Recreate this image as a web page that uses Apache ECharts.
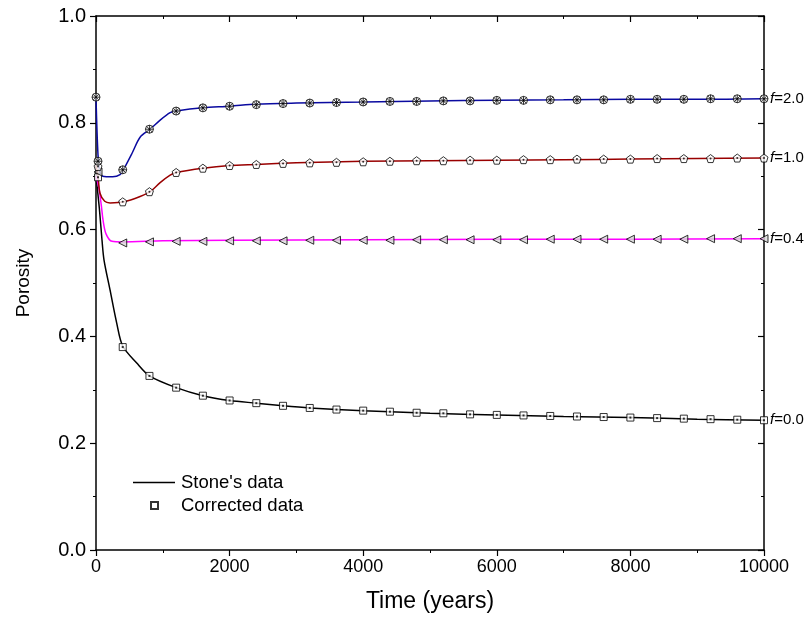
<!DOCTYPE html>
<html><head><meta charset="utf-8">
<script src="https://cdn.jsdelivr.net/npm/echarts@6/dist/echarts.min.js"></script>
<style>html,body{margin:0;padding:0;background:#fff}#c{width:808px;height:622px}</style>
</head><body><div id="c"></div>
<script>
// ---------- axis ticks ----------
const xTicks = [0, 2000, 4000, 6000, 8000, 10000];
const yTicks = [0.0, 0.2, 0.4, 0.6, 0.8, 1.0];

// ---------- model curves (Stone's data) ----------
const f20_t = [0, 30, 60, 100, 250, 360, 410, 540, 660, 810, 960, 1110, 1200, 1600, 2000, 2400, 3000, 4000, 5000, 6000, 7000, 8000, 9000, 10000];
const f20_v = [0.848, 0.740, 0.708, 0.700, 0.699, 0.703, 0.712, 0.743, 0.773, 0.788, 0.805, 0.819, 0.822, 0.828, 0.831, 0.835, 0.837, 0.839, 0.841, 0.842, 0.843, 0.844, 0.844, 0.845];

const f10_t = [0, 30, 60, 130, 210, 420, 660, 810, 960, 1110, 1200, 1600, 2000, 2400, 3000, 4000, 5000, 6000, 7000, 8000, 9000, 10000];
const f10_v = [0.720, 0.700, 0.668, 0.653, 0.650, 0.652, 0.662, 0.671, 0.688, 0.702, 0.707, 0.715, 0.720, 0.722, 0.725, 0.728, 0.729, 0.730, 0.731, 0.732, 0.733, 0.734];

const f04_t = [0, 40, 80, 105, 150, 240, 400, 1000, 2000, 4000, 6000, 8000, 10000];
const f04_v = [0.700, 0.680, 0.645, 0.618, 0.592, 0.578, 0.577, 0.579, 0.580, 0.581, 0.582, 0.582, 0.583];

const f00_t = [0, 50, 90, 120, 210, 310, 400, 610, 800, 1200, 1600, 2000, 2400, 2800, 3200, 4000, 5000, 6000, 7000, 8000, 9000, 10000];
const f00_v = [0.700, 0.640, 0.580, 0.543, 0.487, 0.425, 0.382, 0.350, 0.326, 0.304, 0.289, 0.280, 0.275, 0.270, 0.266, 0.261, 0.256, 0.253, 0.250, 0.248, 0.245, 0.243];

// ---------- corrected data markers ----------
const markT = [400, 800, 1200, 1600, 2000, 2400, 2800, 3200, 3600, 4000, 4400, 4800, 5200, 5600, 6000, 6400, 6800, 7200, 7600, 8000, 8400, 8800, 9200, 9600, 10000];
const m20 = [0.712, 0.788, 0.822, 0.828, 0.831, 0.834, 0.836, 0.837, 0.838, 0.839, 0.840, 0.840, 0.841, 0.841, 0.842, 0.842, 0.843, 0.843, 0.843, 0.844, 0.844, 0.844, 0.845, 0.845, 0.845];
const m10 = [0.652, 0.671, 0.707, 0.715, 0.720, 0.722, 0.724, 0.725, 0.726, 0.727, 0.728, 0.729, 0.729, 0.730, 0.730, 0.731, 0.731, 0.732, 0.732, 0.732, 0.733, 0.733, 0.733, 0.734, 0.734];
const m04 = [0.575, 0.577, 0.578, 0.578, 0.579, 0.579, 0.579, 0.580, 0.580, 0.580, 0.580, 0.581, 0.581, 0.581, 0.581, 0.581, 0.582, 0.582, 0.582, 0.582, 0.582, 0.582, 0.583, 0.583, 0.583];
const m00 = [0.380, 0.326, 0.304, 0.289, 0.280, 0.275, 0.270, 0.266, 0.263, 0.261, 0.259, 0.257, 0.256, 0.254, 0.253, 0.252, 0.251, 0.250, 0.249, 0.248, 0.247, 0.246, 0.245, 0.244, 0.243];
// early markers (t, value)
const early20_t = [0, 30];   const early20_v = [0.848, 0.728];
const early10_t = [30];      const early10_v = [0.718];
const early04_t = [30];      const early04_v = [0.708];
const early00_t = [30];      const early00_v = [0.698];

const curveLabels = ['0.0', '0.4', '1.0', '2.0'];

function pairs(t, v) { return t.map((x, i) => [x, v[i]]); }

const FONT = 'Liberation Sans, Arial, sans-serif';
const chart = echarts.init(document.getElementById('c'), null, {renderer: 'canvas'});

function lineSeries(name, t, v, color, lab) {
  return {
    name: name, type: 'line', data: pairs(t, v), smooth: 0.3,
    showSymbol: false, symbol: 'none', lineStyle: {color: color, width: 1.5}, itemStyle: {color: color},
    z: 2, silent: true,
    endLabel: {show: true, formatter: '{i|f}=' + lab, color: '#000', fontFamily: FONT, fontSize: 15, distance: 6,
      rich: {i: {fontStyle: 'italic', fontFamily: FONT, fontSize: 15, color: '#000'}}}
  };
}
function markSeries(name, t, v, symbol, size, fill, z) {
  return {name: name, type: 'scatter', data: pairs(t, v), symbol: symbol, symbolSize: size,
    itemStyle: {color: fill, borderColor: '#000', borderWidth: 1}, z: z || 3, silent: true};
}
function dotSeries(t, v, symbol, size) {
  return {name: '_dot', type: 'scatter', data: pairs(t, v), symbol: symbol, symbolSize: size,
    itemStyle: {color: '#000'}, z: 5, silent: true};
}

const allT = markT;
const axisCommon = {
  axisLine: {show: true, onZero: false, lineStyle: {color: '#000', width: 1.5}},
  minorTick: {show: true, splitNumber: 2, length: 3, lineStyle: {color: '#000', width: 1}},
  splitLine: {show: false}
};
const option = {
  animation: false,
  backgroundColor: '#fff',
  textStyle: {fontFamily: FONT},
  grid: {left: 96, right: 44, top: 16, bottom: 72},
  legend: [
    {data: [{name: "Stone's data", icon: 'rect'}], left: 133, top: 473, padding: 0, itemWidth: 42, itemHeight: 1.6, itemGap: 0,
      textStyle: {fontSize: 18.5, color: '#000', fontFamily: FONT, padding: [0, 0, 0, 1]}},
    {data: [{name: 'Corrected data', icon: 'rect'}], left: 150, top: 496, padding: 0, itemWidth: 7, itemHeight: 7,
      textStyle: {fontSize: 18.5, color: '#000', fontFamily: FONT, padding: [0, 0, 0, 18]}}
  ],
  xAxis: [
    Object.assign({type: 'value', min: 0, max: 10000, interval: 2000, position: 'bottom',
      axisTick: {show: true, inside: false, length: 6, lineStyle: {color: '#000', width: 1.2}},
      axisLabel: {color: '#000', fontSize: 18, margin: 8, fontFamily: FONT, formatter: v => String(v)},
      name: 'Time (years)', nameLocation: 'middle', nameGap: 40,
      nameTextStyle: {fontSize: 23, color: '#000', fontFamily: FONT}}, axisCommon),
    Object.assign({type: 'value', min: 0, max: 10000, interval: 2000, position: 'top',
      axisTick: {show: true, inside: true, length: 6, lineStyle: {color: '#000', width: 1.2}},
      axisLabel: {show: false}}, axisCommon)
  ],
  yAxis: [
    Object.assign({type: 'value', min: 0, max: 1, interval: 0.2, position: 'left',
      axisTick: {show: true, inside: false, length: 6, lineStyle: {color: '#000', width: 1.2}},
      axisLabel: {color: '#000', fontSize: 20, margin: 10, fontFamily: FONT, formatter: v => v.toFixed(1)},
      name: 'Porosity', nameLocation: 'middle', nameGap: 63, nameRotate: 90,
      nameTextStyle: {fontSize: 19, color: '#000', fontFamily: FONT}}, axisCommon),
    Object.assign({type: 'value', min: 0, max: 1, interval: 0.2, position: 'right',
      axisTick: {show: true, inside: true, length: 6, lineStyle: {color: '#000', width: 1.2}},
      axisLabel: {show: false}}, axisCommon)
  ],
  series: [
    lineSeries("Stone's data", f00_t, f00_v, '#000000', curveLabels[0]),
    lineSeries('model f=0.4', f04_t, f04_v, '#ff00ff', curveLabels[1]),
    lineSeries('model f=1.0', f10_t, f10_v, '#990000', curveLabels[2]),
    lineSeries('model f=2.0', f20_t, f20_v, '#0a0aa0', curveLabels[3]),
    markSeries('Corrected data', allT.concat(early00_t), m00.concat(early00_v), 'rect', 7, '#ffffff'),
    dotSeries(allT.concat(early00_t), m00.concat(early00_v), 'rect', 2),
    markSeries('corr f=0.4', allT.concat(early04_t), m04.concat(early04_v), 'path://M0,5L10,0L10,10Z', [8, 8], '#d8d8d8'),
    markSeries('corr f=1.0', allT.concat(early10_t), m10.concat(early10_v), 'path://M5,0L10,3.8L8.1,10L1.9,10L0,3.8Z', 8, '#ffffff'),
    dotSeries(allT.concat(early10_t), m10.concat(early10_v), 'circle', 2),
    markSeries('corr f=2.0', allT.concat(early20_t), m20.concat(early20_v), 'circle', 8, '#ffffff'),
    {name: '_x', type: 'scatter', data: pairs(allT.concat(early20_t), m20.concat(early20_v)),
      symbol: 'path://M1.5,1.5L8.5,8.5M8.5,1.5L1.5,8.5M5,0L5,10M0,5L10,5', symbolSize: 8,
      itemStyle: {color: 'transparent', borderColor: '#000', borderWidth: 1}, z: 5, silent: true},
    {name: '_frame', type: 'line', data: [], xAxisIndex: 1, yAxisIndex: 1, silent: true}
  ]
};
chart.setOption(option);
</script>
</body></html>
